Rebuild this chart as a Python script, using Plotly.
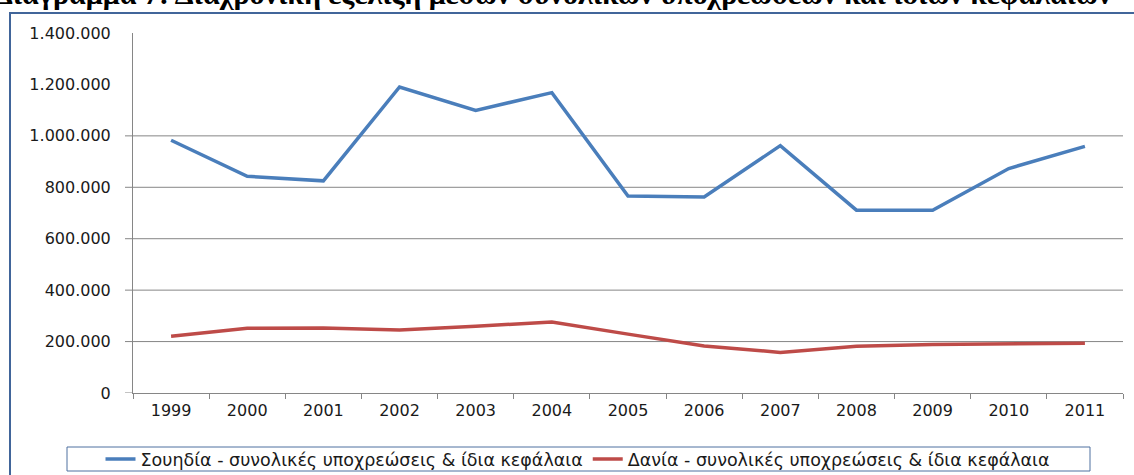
import plotly.graph_objects as go

years = ["1999", "2000", "2001", "2002", "2003", "2004", "2005", "2006", "2007", "2008", "2009", "2010", "2011"]
sweden = [983000, 843000, 825000, 1190000, 1099000, 1168000, 766000, 762000, 962000, 711000, 711000, 873000, 959000]
denmark = [221000, 252000, 253000, 245000, 260000, 276000, 229000, 183000, 158000, 182000, 189000, 192000, 193000]
y_ticks = [0, 200000, 400000, 600000, 800000, 1000000, 1200000, 1400000]
y_tick_text = ["0", "200.000", "400.000", "600.000", "800.000", "1.000.000", "1.200.000", "1.400.000"]
grid_values = [v for v in y_ticks if 0 < v <= 1000000]
tick_values = [v for v in y_ticks if v <= 1000000]
name_sweden = "Σουηδία - συνολικές υποχρεώσεις & ίδια κεφάλαια"
name_denmark = "Δανία - συνολικές υποχρεώσεις & ίδια κεφάλαια"
title_text = "Διάγραμμα 7: Διαχρονική εξέλιξη μέσων συνολικών υποχρεώσεων και ιδίων κεφαλαίων"

W, H = 1134, 475
L, R, T, B = 133, 11, 33, 82
pw, ph = W - L - R, H - T - B

def px(x):
    return (x - L) / pw

def py(y):
    return (H - B - y) / ph

fig = go.Figure()
fig.add_trace(go.Scatter(x=years, y=sweden, mode="lines", name=name_sweden,
                         line=dict(color="#4A7EBB", width=3.5)))
fig.add_trace(go.Scatter(x=years, y=denmark, mode="lines", name=name_denmark,
                         line=dict(color="#BE4B48", width=3.5)))

shapes = []
for v in grid_values:
    shapes.append(dict(type="line", xref="paper", yref="y", x0=0, x1=1, y0=v, y1=v,
                       line=dict(color="#868686", width=1), layer="below"))
for v in tick_values:
    shapes.append(dict(type="line", xref="paper", yref="y", x0=px(L - 8), x1=0, y0=v, y1=v,
                       line=dict(color="#868686", width=1)))
# outer chart frame
shapes.append(dict(type="rect", xref="paper", yref="paper",
                   x0=px(10), x1=px(1145), y0=py(13), y1=py(490),
                   line=dict(color="#41659a", width=2), fillcolor="rgba(0,0,0,0)"))
# legend frame
shapes.append(dict(type="rect", xref="paper", yref="paper",
                   x0=px(67), x1=px(1090), y0=py(447), y1=py(471),
                   line=dict(color="#4f71a0", width=1), fillcolor="rgba(0,0,0,0)"))

fig.update_layout(
    width=W, height=H,
    margin=dict(l=L, r=R, t=T, b=B, autoexpand=False),
    paper_bgcolor="white", plot_bgcolor="white",
    font=dict(family="DejaVu Sans", size=16, color="#1a1a1a"),
    shapes=shapes,
    showlegend=True,
    legend=dict(orientation="h", x=px(578), xanchor="center", y=py(459), yanchor="middle",
                borderwidth=0, font=dict(size=17.5, family="DejaVu Sans"),
                bgcolor="rgba(0,0,0,0)", tracegroupgap=0, itemwidth=30),
    annotations=[dict(text="<b>" + title_text + "</b>", xref="paper", yref="paper",
                      x=px(-8), y=py(12), xanchor="left", yanchor="bottom", showarrow=False,
                      font=dict(family="Liberation Serif", size=30, color="black"))],
)
fig.update_xaxes(type="category", range=[-0.5, len(years) - 0.5], showgrid=False, showline=True,
                 linecolor="#868686", linewidth=1,
                 ticks="outside", tickson="boundaries", ticklen=5, tickcolor="#868686",
                 ticklabelstandoff=3, tickfont=dict(size=16))
fig.update_yaxes(range=[0, 1400000], showgrid=False, zeroline=False, showline=True,
                 linecolor="#868686", linewidth=1, tickvals=y_ticks, ticktext=y_tick_text,
                 ticks="outside", ticklen=8, tickcolor="rgba(0,0,0,0)", ticklabelstandoff=10,
                 tickfont=dict(size=16))

fig.write_html("out.html", config={"displayModeBar": False},
               post_script="document.body.style.margin='0px';document.body.style.overflow='hidden';")
